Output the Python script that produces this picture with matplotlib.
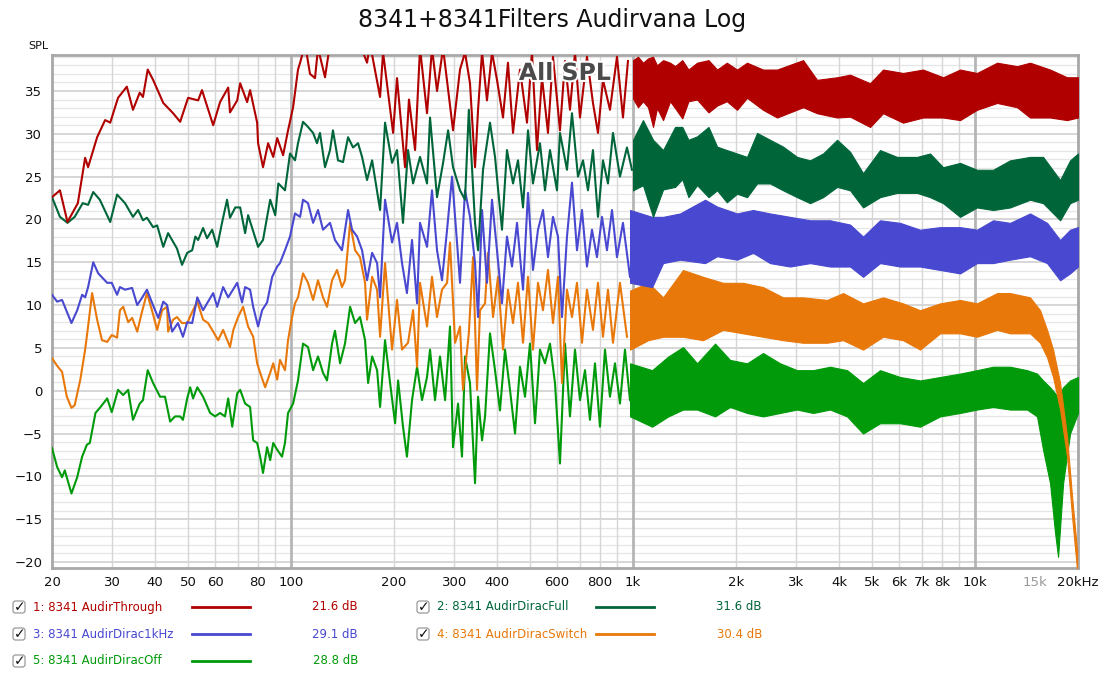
import matplotlib
matplotlib.use("Agg")
import matplotlib.pyplot as plt
import matplotlib.patheffects as pe
from matplotlib.patches import FancyBboxPatch
from matplotlib.ticker import NullLocator

# ---------------- data (Hz, dB SPL) ----------------
# low/mid part: traced points; above ~1 kHz: lower/upper edge of the noisy trace

# 1: AudirThrough
through_f = [20.0, 21.1, 22.2, 23.8, 25.0, 25.5, 27.1, 28.6, 29.6, 31.2, 33.1, 34.5, 36.1, 36.9, 38.1, 39.5, 42.3, 45.2, 47.4, 50.0,
             53.5, 54.9, 59.2, 62.0, 65.5, 66.3, 69.6, 71.0, 74.4, 75.9, 79.6, 80.1, 82.8, 85.7, 88.7, 91.1, 94.8, 98.0, 101.4, 104.8,
             106.3, 109.9, 113.6, 117.5, 119.9, 125.7, 130.0, 143.8, 162.4, 166.8, 170.2, 182.1, 185.8, 198.8, 204.1, 215.4, 221.2, 230.5, 238.3, 249.8,
             258.3, 267.2, 278.3, 297.6, 311.9, 322.6, 333.6, 345.1, 352.2, 361.8, 374.0, 386.9, 400.1, 416.6, 430.8, 445.7, 467.1, 489.7, 506.4, 523.7,
             541.7, 564.0, 583.3, 611.4, 632.5, 654.0, 676.5, 699.6, 733.3, 763.5, 789.7, 816.8, 856.1, 897.5, 934.4, 966.4]
through_db = [22.6, 23.4, 19.7, 21.9, 27.2, 26.1, 29.6, 31.6, 31.3, 34.2, 35.5, 32.8, 34.8, 34.3, 37.5, 36.3, 33.6, 32.4, 31.4, 34.2,
              33.9, 35.1, 31.0, 33.7, 35.4, 32.5, 33.9, 35.9, 33.7, 35.1, 31.3, 28.9, 26.1, 28.9, 27.3, 29.5, 27.5, 30.4, 33.1, 37.5,
              38.3, 40.5, 37.0, 36.5, 40.0, 36.6, 40.5, 41.0, 39.5, 38.3, 40.5, 34.3, 39.5, 30.1, 36.5, 26.1, 34.0, 28.1, 40.0, 32.4,
              40.0, 35.0, 40.0, 30.4, 37.5, 39.5, 35.9, 26.1, 32.8, 39.5, 33.9, 39.5, 36.3, 31.9, 38.3, 30.1, 37.5, 31.3, 39.5, 28.1,
              36.6, 30.1, 39.0, 30.4, 38.5, 32.8, 39.5, 31.9, 39.0, 33.6, 30.1, 36.3, 32.8, 39.0, 31.9, 38.5]
through_hf_f = [1000, 1034, 1069, 1106, 1144, 1175, 1224, 1283, 1327, 1393, 1452, 1539, 1662, 1761, 1880, 2014, 2154,
                2399, 2637, 3142, 3451, 3949, 4311, 4932, 5383, 6159, 7047, 8064, 9041, 10130, 11600, 13270, 14480, 16570, 18580, 20000]
through_hf_lo = [34.1, 33.1, 33.8, 33.1, 30.8, 33.0, 31.6, 33.8, 33.0, 31.8, 33.8, 34.0, 32.5, 33.3, 33.8, 32.8, 34.2,
                 32.8, 31.9, 33.1, 32.4, 31.9, 32.0, 30.8, 32.4, 31.3, 31.9, 31.9, 31.6, 32.8, 33.6, 33.1, 31.9, 31.9, 31.6, 31.9]
through_hf_hi = [38.6, 39.0, 38.3, 38.8, 39.0, 38.0, 38.6, 38.3, 37.9, 38.6, 37.5, 38.3, 38.6, 37.5, 38.3, 37.5, 38.3,
                 37.5, 37.5, 38.6, 36.3, 36.6, 36.9, 35.9, 37.5, 37.1, 37.5, 36.6, 37.5, 37.1, 38.3, 37.9, 38.3, 37.5, 36.6, 36.6]

# 2: AudirDiracFull
full_f = [20.0, 21.1, 22.2, 23.3, 24.6, 25.5, 26.4, 27.6, 29.6, 31.0, 32.7, 34.5, 35.7, 36.9, 37.9, 39.5, 40.6, 42.3, 43.7, 46.4,
          48.0, 49.7, 51.4, 52.5, 53.5, 55.3, 56.8, 58.8, 60.8, 62.9, 65.0, 66.3, 68.7, 71.0, 73.4, 74.9, 80.1, 82.8, 86.9, 89.9,
          91.8, 96.0, 98.0,
          99.3, 102.7, 104.8, 108.4, 112.1, 116.0, 119.1, 121.5, 125.7, 130.0, 132.6, 137.2, 141.9, 146.8, 151.8, 157.0, 161.3, 166.8, 172.6, 182.1,
          188.3, 197.4, 204.1, 212.5, 219.8, 227.4, 238.3, 249.8, 254.9, 267.2, 278.3, 287.9, 297.6, 311.9, 322.6, 331.0, 345.1, 352.2, 364.2, 381.7,
          394.8, 413.8, 427.9, 445.7, 460.9, 476.7, 493.0, 509.8, 534.4, 552.7, 571.6, 599.2, 611.4, 641.0, 662.9, 690.2, 713.9, 738.3, 763.5, 789.7,
          816.8, 844.7, 873.6, 915.7, 959.9, 992.8]
full_db = [22.6, 20.3, 19.6, 20.3, 21.9, 21.7, 23.2, 22.3, 19.7, 22.9, 21.9, 20.3, 21.1, 19.9, 20.2, 19.1, 19.3, 16.8, 18.4, 16.6,
           14.7, 16.1, 16.4, 18.0, 17.6, 19.0, 17.8, 18.8, 16.8, 19.7, 22.3, 20.2, 21.4, 21.4, 18.4, 20.5, 16.8, 17.6, 22.3, 20.5,
           24.2, 23.4, 26.0,
           27.7, 26.9, 28.9, 31.4, 30.8, 30.1, 28.9, 30.1, 26.1, 28.1, 30.4, 26.9, 26.7, 29.6, 28.4, 28.9, 27.3, 24.6, 26.9, 21.1,
           31.3, 26.6, 28.1, 19.6, 28.1, 24.2, 27.3, 24.2, 31.9, 22.6, 26.6, 30.4, 26.1, 23.4, 22.3, 32.8, 19.6, 16.4, 25.8, 31.3,
           27.3, 18.8, 28.1, 24.2, 26.9, 21.4, 30.4, 24.2, 28.9, 23.4, 28.1, 23.4, 30.1, 25.8, 32.4, 25.0, 26.9, 23.4, 28.1, 20.3,
           26.9, 24.2, 30.1, 25.0, 28.4, 25.8]
full_hf_f = [1000, 1069, 1144, 1224, 1327, 1393, 1452, 1539, 1662, 1761, 1880, 2014, 2154,
             2305, 2515, 2746, 3017, 3293, 3594, 3949, 4311, 4705, 5275, 5914, 6767, 7385, 8064, 9041, 10130, 11290, 12660, 14480,
             15810, 17730, 18960, 20000]
full_hf_lo = [23.4, 24.0, 20.3, 23.5, 23.8, 24.7, 22.6, 24.0, 22.6, 23.4, 22.0, 23.0, 22.6,
              24.2, 24.2, 23.4, 22.6, 21.9, 22.6, 23.8, 23.4, 21.4, 22.6, 23.1, 23.1, 22.6, 21.9, 20.3, 21.4, 21.1, 21.4, 22.3,
              21.9, 19.9, 21.9, 22.3]
full_hf_hi = [29.3, 31.6, 29.3, 28.1, 30.8, 30.8, 29.3, 29.7, 30.8, 28.5, 28.1, 27.7, 27.3,
              30.1, 29.3, 28.5, 27.3, 26.9, 27.7, 29.3, 27.9, 25.4, 28.1, 27.3, 27.3, 27.7, 26.1, 26.6, 25.8, 25.8, 26.9, 27.3,
              27.3, 24.6, 26.9, 27.7]

# 3: AudirDirac1kHz
khz_f = [20.0, 20.7, 21.4, 22.8, 23.7, 24.5, 25.0, 25.5, 26.4, 27.3, 29.0, 29.9, 31.0, 31.6, 32.7, 34.3, 35.5, 36.6, 37.9, 39.2,
         40.9, 42.3, 43.4, 44.9, 46.7, 48.3, 49.7, 51.4, 53.2, 55.3, 57.2, 59.2, 60.8, 63.3, 65.5, 69.6, 71.9, 73.4, 75.9, 77.5,
         80.1, 82.3, 85.1, 88.1, 91.1, 92.8, 96.0, 99.3, 102.7,
         106.3, 108.4, 112.1, 116.0, 119.9, 124.0, 130.0, 134.4, 140.9, 146.8, 150.8, 156.0, 161.3, 166.8, 172.6, 178.5, 182.1, 188.3, 197.4, 204.1,
         211.1, 218.2, 225.8, 233.6, 238.3, 249.8, 258.3, 267.2, 276.3, 285.9, 295.6, 305.7, 311.9, 322.6, 333.6, 345.1, 352.2, 361.8, 374.0, 386.9,
         400.1, 413.8, 427.9, 442.7, 457.9, 476.7, 493.0, 509.8, 527.3, 545.3, 564.0, 583.3, 603.3, 619.8, 641.0, 662.9, 685.6, 709.1, 733.3, 758.4,
         784.3, 811.3, 839.0, 867.8, 897.5, 934.4, 979.5]
khz_db = [11.2, 10.4, 10.6, 7.9, 9.4, 11.2, 10.9, 12.1, 15.0, 13.7, 12.6, 12.6, 11.2, 12.1, 11.8, 12.0, 10.0, 10.8, 11.8, 10.3,
          8.5, 10.4, 10.0, 6.9, 7.9, 6.3, 8.0, 7.9, 10.9, 9.4, 10.4, 11.4, 9.8, 12.1, 10.9, 12.6, 10.3, 12.1, 11.8, 9.8,
          7.5, 9.4, 10.3, 13.3, 14.5, 14.9, 16.4, 18.0, 20.7,
          20.3, 22.3, 21.9, 19.6, 21.1, 18.8, 19.6, 17.6, 16.4, 21.1, 18.8, 18.0, 16.4, 12.9, 16.1, 14.9, 10.9, 22.3, 17.3, 19.6,
          14.9, 11.4, 17.6, 10.2, 19.6, 16.8, 23.4, 16.4, 12.9, 18.8, 25.0, 17.3, 12.6, 23.4, 20.3, 14.9, 8.6, 21.1, 12.6, 22.3,
          16.4, 10.2, 18.0, 14.5, 19.6, 11.8, 23.1, 14.1, 18.8, 21.1, 15.6, 20.3, 18.0, 8.6, 18.0, 24.3, 16.4, 21.1, 14.5, 18.8,
          15.6, 20.3, 16.4, 21.1, 15.6, 19.6, 13.3]
khz_hf_f = [980, 1137, 1224, 1372, 1624, 1761, 2014, 2244, 2515, 2878, 3293, 3767, 4311, 4705, 5275, 6036, 6907, 7902, 9041, 10130,
            11290, 12660, 14480, 16240, 17730, 18960, 20000]
khz_hf_lo = [12.6, 12.1, 14.9, 15.3, 14.9, 15.7, 15.3, 16.1, 14.9, 14.5, 14.9, 14.5, 14.5, 13.3, 14.9, 14.5, 14.5, 14.1, 13.7, 14.9,
             14.9, 15.3, 15.7, 14.9, 12.9, 13.7, 14.5]
khz_hf_hi = [21.1, 20.3, 20.3, 20.7, 22.3, 21.5, 20.7, 21.1, 20.7, 20.3, 19.9, 19.9, 19.4, 18.0, 19.9, 19.6, 18.8, 19.1, 19.1, 18.8,
             19.9, 19.6, 20.7, 19.6, 17.6, 18.8, 19.1]

# 4: AudirDiracSwitch
switch_f = [20.0, 20.8, 21.4, 22.1, 22.8, 23.3, 24.2, 25.0, 25.5, 26.2, 27.1, 28.0, 29.0, 29.9, 31.0, 31.6, 32.3, 33.4, 34.3, 35.5,
            36.6, 37.9, 39.2, 40.6, 42.0, 43.4, 43.7, 45.2, 46.4, 48.0, 49.7, 51.4, 53.2, 55.3, 57.2, 59.2, 61.2, 63.3, 66.3, 67.8,
            70.0, 72.4, 74.9, 77.5, 79.6, 81.2, 84.0, 86.9, 88.7, 91.1, 92.8, 96.0, 98.0, 100.7, 102.7, 104.8,
            108.4, 112.1, 116.0, 119.9, 124.0, 127.4, 131.8, 136.3, 140.9, 143.8, 148.8, 153.9, 159.1, 164.6, 166.8, 172.6, 178.5, 182.1, 188.3, 197.4,
            204.1, 211.1, 219.8, 227.4, 233.6, 238.3, 249.8, 258.3, 267.2, 276.3, 285.9, 291.6, 301.7, 311.9, 318.2, 331.0, 340.5, 349.8, 356.9, 369.2,
            376.6, 389.6, 402.9, 416.6, 430.8, 445.7, 460.9, 476.7, 493.0, 509.8, 527.3, 545.3, 564.0, 583.3, 603.3, 619.8, 641.0, 662.9, 685.6, 709.1,
            733.3, 763.5, 789.7, 816.8, 844.7, 873.6, 915.7, 959.9]
switch_db = [3.8, 2.8, 2.2, -0.7, -2.0, -1.7, 1.3, 4.8, 7.5, 11.4, 8.3, 5.9, 5.7, 6.5, 6.2, 9.4, 9.8, 8.0, 8.5, 6.9,
             9.1, 11.4, 9.4, 7.1, 9.4, 9.8, 6.9, 8.3, 8.6, 7.9, 7.9, 9.2, 10.4, 8.3, 7.9, 6.9, 5.9, 7.1, 5.1, 7.1,
             8.6, 9.8, 7.5, 6.3, 3.2, 2.1, 0.4, 2.1, 3.2, 1.3, 3.6, 2.4, 5.9, 8.6, 10.2, 10.9,
             13.7, 12.6, 10.6, 12.9, 10.9, 9.8, 12.9, 14.1, 12.1, 12.9, 19.6, 16.4, 15.6, 12.6, 8.3, 13.3, 11.8, 6.3, 14.9, 4.8,
             10.6, 4.8, 5.6, 9.4, 2.8, 12.6, 7.5, 13.3, 8.6, 11.8, 12.6, 17.3, 5.6, 7.5, 0.1, 6.7, 15.6, 0.1, 9.4, 10.2,
             16.1, 8.6, 13.3, 4.8, 11.8, 7.9, 12.6, 5.6, 13.3, 4.8, 12.6, 9.4, 14.1, 7.9, 13.3, 0.9, 11.8, 8.6, 12.6, 5.6,
             11.8, 7.1, 12.6, 6.3, 11.8, 5.6, 12.6, 6.3]
switch_hf_f = [980, 1108, 1224, 1400, 1602, 1833, 2097, 2399, 2746, 3142, 3692, 4112, 4705, 5383, 6159, 6907, 7902, 9041, 10130, 11600,
               12660, 14480, 15490, 16240, 16910, 17730, 18580, 19220, 19870]
switch_hf_lo = [4.8, 5.9, 6.3, 6.3, 5.9, 7.1, 6.7, 6.3, 5.9, 5.6, 5.6, 5.9, 4.8, 6.3, 5.9, 4.8, 6.7, 6.7, 6.3, 7.1,
                6.7, 6.7, 5.6, 3.9, 1.6, -2.2, -7.7, -14.7, -20.9]
switch_hf_hi = [11.7, 12.6, 10.9, 14.1, 13.3, 12.6, 12.6, 12.1, 10.9, 10.9, 10.6, 11.4, 10.2, 10.9, 10.2, 9.4, 10.2, 10.6, 10.2, 11.4,
                11.4, 10.9, 9.4, 7.1, 4.8, 0.9, -5.4, -12.4, -18.6]

# 5: AudirDiracOff
off_f = [20.0, 20.7, 21.4, 21.8, 22.8, 23.7, 24.5, 25.3, 25.8, 26.8, 27.6, 29.0, 29.9, 31.2, 32.3, 33.4, 34.5, 36.1, 36.9, 38.1,
         39.5, 41.4, 42.8, 44.3, 45.8, 47.4, 48.3, 49.7, 50.7, 51.7, 53.2, 55.3, 58.0, 60.0, 62.0, 64.1, 65.5, 67.3, 69.6, 71.0,
         73.4, 75.9, 77.5, 79.6, 81.2, 82.8, 85.1, 86.9, 88.7, 91.1, 94.1, 96.0, 98.0, 101.4, 104.8,
         108.4, 112.1, 116.0, 119.9, 124.0, 127.4, 131.8, 134.4, 139.1, 143.8, 148.8, 153.9, 159.1, 164.6, 168.0, 172.6, 178.5, 182.1, 188.3, 194.8,
         201.5, 205.6, 212.5, 218.2, 225.8, 233.6, 241.5, 249.8, 254.9, 263.6, 272.6, 282.1, 291.6, 297.6, 307.8, 316.1, 322.6, 333.6, 345.1, 352.2,
         361.8, 369.2, 381.7, 394.8, 408.2, 422.3, 436.7, 451.7, 467.1, 483.2, 499.6, 516.8, 534.4, 552.7, 571.6, 591.2, 611.4, 632.5, 654.0, 676.5,
         699.6, 723.6, 748.2, 773.9, 800.3, 827.8, 856.1, 885.5, 915.7, 947.1, 979.5]
off_db = [-6.7, -8.9, -10.1, -9.3, -12.0, -10.1, -7.7, -6.3, -6.1, -2.6, -2.0, -0.9, -2.5, 0.1, -0.5, 0.1, -3.4, -1.5, -1.1, 2.4,
          0.9, -0.7, -0.7, -3.6, -3.0, -3.0, -3.4, -0.9, 0.4, -0.9, 0.4, -0.7, -2.6, -3.0, -2.6, -3.0, -0.9, -4.2, -0.3, 0.1,
          -1.5, -1.9, -5.8, -6.1, -7.7, -9.6, -6.6, -8.1, -6.1, -6.9, -7.7, -6.1, -2.6, -1.5, 1.2,
          5.5, 5.1, 2.4, 4.0, 2.1, 1.2, 5.5, 7.0, 3.2, 5.5, 9.8, 7.9, 8.6, 5.9, 0.9, 4.0, 2.4, -1.9, 5.9, 0.9,
          -3.8, 1.2, -4.2, -7.7, -1.1, 2.8, -1.1, 1.6, 4.8, -1.1, 4.0, -1.1, 7.5, -6.6, -1.5, -7.7, 4.0, 0.9, -10.8, -0.7,
          -5.8, -3.0, 6.7, 2.4, -2.3, 4.8, 0.1, -5.0, 2.8, -0.7, 5.5, -3.8, 4.8, 3.2, 5.5, 0.9, -8.5, 5.5, -3.0, 4.8,
          -1.1, 2.4, -3.4, 3.2, -4.2, 4.8, -0.7, 3.2, -1.5, 4.8, -1.1]
off_hf_f = [980, 1137, 1268, 1400, 1539, 1737, 1921, 2154, 2399, 2691, 3017, 3360, 3767, 4225, 4705, 5275, 6036, 6907, 7902, 9041,
            10130, 11290, 12660, 14190, 15180, 15810, 16570, 17140, 17490, 18090, 18960, 20000]
off_hf_lo = [-3.0, -4.2, -3.0, -2.2, -2.2, -3.0, -1.9, -2.6, -3.0, -2.6, -2.2, -2.6, -2.2, -3.0, -5.0, -3.8, -3.8, -4.2, -3.0, -2.6,
             -2.2, -1.9, -2.2, -2.2, -3.0, -6.9, -10.8, -16.6, -19.4, -10.8, -5.0, -2.6]
off_hf_hi = [3.2, 2.4, 4.0, 5.1, 3.2, 5.5, 3.6, 3.2, 4.4, 3.2, 2.4, 2.4, 2.8, 2.4, 0.9, 2.4, 1.6, 1.2, 1.6, 2.0,
             2.4, 2.8, 2.8, 2.4, 2.0, 1.2, 0.4, -0.3, -0.7, 0.4, 1.2, 1.6]

names = ["1: 8341 AudirThrough", "2: 8341 AudirDiracFull", "3: 8341 AudirDirac1kHz",
         "4: 8341 AudirDiracSwitch", "5: 8341 AudirDiracOff"]
levels = ["21.6 dB", "31.6 dB", "29.1 dB", "30.4 dB", "28.8 dB"]
colors = ["#B00000", "#00663A", "#4848D0", "#E8780A", "#009A0A"]

x_ticks = [20, 30, 40, 50, 60, 80, 100, 200, 300, 400, 600, 800, 1000, 2000, 3000, 4000, 5000, 6000, 7000, 8000, 10000, 15000, 20000]
x_labels = ["20", "30", "40", "50", "60", "80", "100", "200", "300", "400", "600", "800", "1k", "2k", "3k", "4k", "5k", "6k",
            "7k", "8k", "10k", "15k", "20kHz"]

series = [
    (through_f, through_db, through_hf_f, through_hf_lo, through_hf_hi),
    (full_f, full_db, full_hf_f, full_hf_lo, full_hf_hi),
    (khz_f, khz_db, khz_hf_f, khz_hf_lo, khz_hf_hi),
    (switch_f, switch_db, switch_hf_f, switch_hf_lo, switch_hf_hi),
    (off_f, off_db, off_hf_f, off_hf_lo, off_hf_hi),
]

W, H = 1104, 677
fig = plt.figure(figsize=(W / 100, H / 100), dpi=100)
ax = fig.add_axes([52 / W, 1 - 568 / H, 1026 / W, 513 / H])
ax.set_xscale("log")
ax.set_xlim(20, 20000)
ax.set_ylim(-20.7, 39.2)

# grid like REW
for db in range(-20, 40):
    ax.axhline(db, color="#cfcfcf" if db % 5 == 0 else "#e6e6e6", lw=1.2 if db % 5 == 0 else 0.9, zorder=0)
for dec in [10, 100, 1000, 10000]:
    for m in range(1, 10):
        f = dec * m
        if 20 <= f <= 20000:
            major = m == 1
            ax.axvline(f, color="#b5b5b5" if major else "#d6d6d6", lw=2.0 if major else 1.0, zorder=0)

# traces, trace 1 on top
for i in range(len(series) - 1, -1, -1):
    f, db, hf, lo, hi = series[i]
    c = colors[i]
    ax.plot(f, db, color=c, lw=1.5, zorder=7 - i)
    ax.fill_between(hf, lo, hi, color=c, lw=0.8, edgecolor=c, zorder=7 - i)

ax.set_xticks(x_ticks, x_labels)
ax.xaxis.set_minor_locator(NullLocator())
ax.set_yticks(range(-20, 36, 5))
ax.yaxis.set_minor_locator(NullLocator())
ax.tick_params(length=0, labelsize=9.5, colors="#111111")
ax.tick_params(axis="x", pad=6)
ax.tick_params(axis="y", pad=7)
ax.get_xticklabels()[x_labels.index("15k")].set_color("#999999")
for s in ax.spines.values():
    s.set_color("#a8a8a8")
    s.set_linewidth(2)

ax.text(0.5, 0.965, "All SPL", transform=ax.transAxes, ha="center", va="center",
        fontsize=17, fontweight="bold", color="#4a4a4a", zorder=20,
        path_effects=[pe.withStroke(linewidth=3, foreground="white")])

fig.text(0.5, 1 - 20 / H, "8341+8341Filters Audirvana Log", ha="center", va="center", fontsize=17, color="#111111")
fig.text(28 / W, 1 - 46 / H, "SPL", ha="left", va="center", fontsize=8, color="#111111")

# legend block below the plot
lax = fig.add_axes([0, 0, 1, 1])
lax.set_xlim(0, W)
lax.set_ylim(H, 0)
lax.axis("off")
for i, name in enumerate(names):
    col, row = i % 2, i // 2
    x0 = 12 + col * 404
    y0 = 607 + row * 27
    lax.add_patch(FancyBboxPatch((x0 + 1, y0 - 6), 12, 12, boxstyle="round,pad=0,rounding_size=2.5",
                                 fc="white", ec="#9a9a9a", lw=0.9))
    lax.text(x0 + 7.5, y0 + 0.5, "\u2713", ha="center", va="center", fontsize=10, color="#111111", fontweight="bold")
    lax.text(x0 + 21, y0, name, ha="left", va="center", fontsize=8.5, color=colors[i])
    lax.plot([x0 + 180, x0 + 238], [y0, y0], color=colors[i], lw=2)
    lax.text(x0 + 346, y0, levels[i], ha="right", va="center", fontsize=8.5, color=colors[i])

fig.savefig("out.png", dpi=100)
